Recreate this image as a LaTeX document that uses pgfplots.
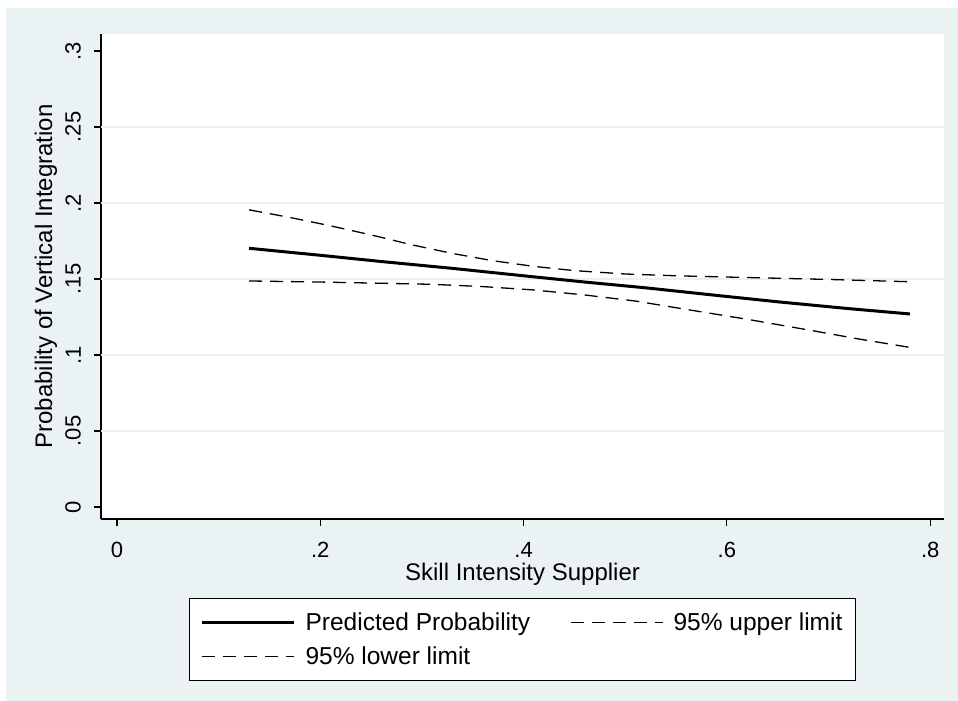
\documentclass[border=0pt]{standalone}
\usepackage{fontspec}
\setmainfont{Liberation Sans}
\usepackage{pgfplots}
\pgfplotsset{compat=1.18}
\definecolor{statabg}{RGB}{234,242,243}
\definecolor{gridc}{RGB}{232,240,242}

\pgfplotstableread{
x y
0.130 0.1702
0.20 0.1656
0.26 0.1615
0.33 0.1570
0.39 0.1528
0.46 0.1480
0.52 0.1442
0.59 0.1392
0.65 0.1350
0.72 0.1305
0.78 0.1270
}\predtab

\pgfplotstableread{
x y
0.130 0.1955
0.17 0.1905
0.21 0.1850
0.25 0.1790
0.29 0.1725
0.33 0.1668
0.37 0.1620
0.41 0.1583
0.45 0.1555
0.50 0.1533
0.55 0.1521
0.60 0.1513
0.65 0.1505
0.70 0.1497
0.78 0.1482
}\uptab

\pgfplotstableread{
x y
0.130 0.1487
0.20 0.1480
0.26 0.1472
0.31 0.1465
0.36 0.1450
0.41 0.1428
0.46 0.1395
0.51 0.1355
0.56 0.1300
0.62 0.1235
0.68 0.1165
0.73 0.1105
0.78 0.1050
}\lowtab

\begin{document}
\begin{tikzpicture}[x=1pt,y=1pt,font=\fontsize{24}{28}\selectfont]
\path[use as bounding box] (0,0) rectangle (958,701);
\fill[white] (0,0) rectangle (958,701);
\fill[statabg] (6,0) rectangle (958,693);
\begin{axis}[
  at={(101pt,182pt)}, anchor=south west,
  scale only axis, width=843pt, height=485pt,
  xmin=-0.01574, xmax=0.8136,
  ymin=-0.00789, ymax=0.31118,
  axis x line*=bottom, axis y line*=left,
  axis line style={-, line width=1.3pt, black},
  axis background/.style={fill=white},
  tick align=outside, major tick length=7pt,
  tick style={line width=1.2pt, black},
  xtick={0,0.2,0.4,0.6,0.8},
  xticklabels={0,.2,.4,.6,.8},
  ytick={0,0.05,0.1,0.15,0.2,0.25,0.3},
  yticklabels={0,.05,.1,.15,.2,.25,.3},
  tick label style={font=\fontsize{22}{26}\selectfont},
  xticklabel style={inner sep=0pt, anchor=north, yshift=-16pt},
  yticklabel style={xshift=-13pt, rotate=90, anchor=south, inner sep=0pt},
  extra y ticks={0.05,0.1,0.15,0.2,0.25},
  extra y tick labels={},
  extra y tick style={major tick length=0pt, ymajorgrids=true,
    major grid style={color=gridc, line width=1.2pt}},
  xlabel={Skill Intensity Supplier},
  ylabel={Probability of Vertical Integration},
  label style={font=\fontsize{24}{28}\selectfont},
  xlabel style={at={(axis description cs:0.5,-0.1258)}, anchor=base, inner sep=0pt},
  ylabel style={at={(axis description cs:-0.0581,0.5)}, anchor=base, inner sep=0pt},
  legend columns=2,
  legend cell align=left,
  legend image code/.code={\draw[#1] (0pt,0pt) -- (92pt,0pt);},
  legend style={at={(0.5,-0.1629)}, anchor=north, draw=black, line width=1.2pt,
    fill=white, inner xsep=11pt, inner ysep=12pt, row sep=11pt,
    nodes={inner sep=2pt},
    font=\fontsize{24.5}{28}\selectfont,
    /tikz/every odd column/.append style={column sep=8pt},
    /tikz/every even column/.append style={column sep=38pt}},
]
\addplot[black, line width=3pt] table {\predtab};
\addlegendentry{Predicted Probability}
\addplot[black, line width=1.3pt, dash pattern=on 13pt off 8pt] table {\uptab};
\addlegendentry{95\% upper limit}
\addplot[black, line width=1.3pt, dash pattern=on 13pt off 8pt] table {\lowtab};
\addlegendentry{95\% lower limit}
\end{axis}
\end{tikzpicture}
\end{document}
